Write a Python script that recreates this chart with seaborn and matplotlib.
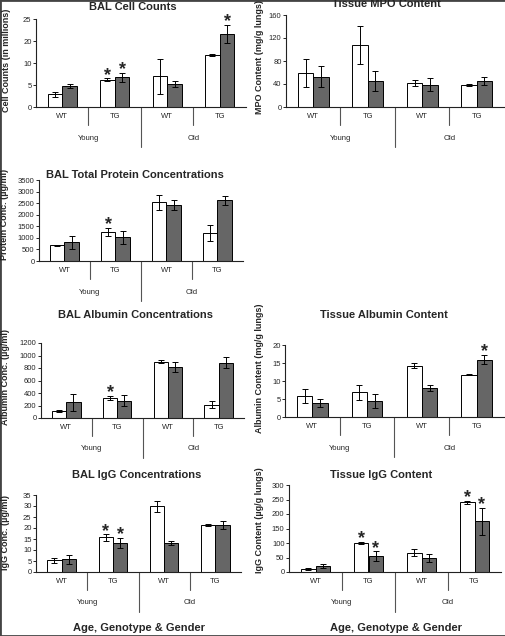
import matplotlib
matplotlib.use("Agg")
import matplotlib.pyplot as plt
import matplotlib.transforms as mtransforms
from matplotlib.patches import Rectangle
import pandas as pd
import seaborn as sns

# ---- data ----
groups = ["Young WT", "Young TG", "Old WT", "Old TG"]
genotypes = ["WT", "TG", "WT", "TG"]
ages = ["Young", "Old"]
sexes = ["Male", "Female"]  # white / grey bars

# BAL cell counts
cell_m = [3.6, 7.8, 8.7, 14.8]
cell_m_err = [0.7, 0.3, 5.0, 0.2]
cell_f = [5.9, 8.4, 6.5, 20.8]
cell_f_err = [0.6, 1.3, 0.9, 2.5]
cell_ticks = [0, 6.25, 12.5, 18.75, 25]
cell_ticklabels = ["0", "5", "10", "20", "25"]
cell_stars = [(1, 0), (1, 1), (3, 1)]  # (group, sex)

# Tissue MPO content
mpo_m = [59, 107, 42, 38]
mpo_m_err = [24, 33, 5, 2]
mpo_f = [53, 45, 39, 46]
mpo_f_err = [19, 18, 12, 7]
mpo_ticks = [0, 40, 80, 120, 160]
mpo_stars = []

# BAL total protein
prot_m = [680, 1270, 2530, 1215]
prot_m_err = [30, 170, 330, 330]
prot_f = [800, 1030, 2430, 2630]
prot_f_err = [300, 280, 220, 200]
prot_ticks = [0, 500, 1000, 1500, 2000, 2500, 3000, 3500]
prot_stars = [(1, 0)]

# BAL albumin
balb_m = [115, 325, 900, 215]
balb_m_err = [20, 30, 25, 60]
balb_f = [250, 280, 815, 885]
balb_f_err = [140, 95, 85, 85]
balb_ticks = [0, 200, 400, 600, 800, 1000, 1200]
balb_stars = [(1, 0)]

# Tissue albumin
talb_m = [5.8, 6.9, 14.3, 11.8]
talb_m_err = [2.0, 2.1, 0.6, 0.2]
talb_f = [3.9, 4.5, 8.0, 15.9]
talb_f_err = [1.1, 2.0, 0.8, 1.3]
talb_ticks = [0, 5, 10, 15, 20]
talb_stars = [(3, 1)]

# BAL IgG
bigg_m = [5.3, 15.7, 29.8, 21.3]
bigg_m_err = [1.2, 1.4, 2.6, 0.4]
bigg_f = [5.8, 13.2, 13.2, 21.3]
bigg_f_err = [2.0, 2.4, 0.7, 1.7]
bigg_ticks = [0, 5, 10, 15, 20, 25, 30, 35]
bigg_stars = [(1, 0), (1, 1)]

# Tissue IgG
tigg_m = [10, 100, 66, 240]
tigg_m_err = [3, 3, 12, 6]
tigg_f = [20, 54, 48, 175]
tigg_f_err = [7, 17, 15, 46]
tigg_ticks = [0, 50, 100, 150, 200, 250, 300]
tigg_stars = [(1, 0), (1, 1), (3, 0), (3, 1)]

sns.set_style("white")
plt.rcParams["font.family"] = ["Liberation Sans", "DejaVu Sans"]

W, H = 506, 636
fig = plt.figure(figsize=(W / 100, H / 100), dpi=100)


def panel(box, male, male_err, female, female_err, ticks, stars, ticklabels=None):
    left, right, top, bottom = box
    h = bottom - top
    ax = fig.add_axes([left / W, 1 - bottom / H, (right - left) / W, h / H])
    df = pd.DataFrame({
        "group": groups * 2,
        "sex": [sexes[0]] * 4 + [sexes[1]] * 4,
        "value": male + female,
    })
    sns.barplot(data=df, x="group", y="value", hue="sex", order=groups,
                hue_order=sexes, palette=["white", "#666666"],
                edgecolor="black", linewidth=0.7, width=0.56,
                errorbar=None, legend=False, ax=ax)
    errs = male_err + female_err
    tops = []
    for p, v, e in zip(ax.patches, df["value"], errs):
        xc = p.get_x() + p.get_width() / 2
        ax.errorbar(xc, v, yerr=e, color="black", lw=0.7, capsize=2,
                    capthick=0.7)
        tops.append((xc, v + e))
    # significance marks
    for g, s in stars:
        xc, yt = tops[s * 4 + g]
        ax.annotate("*", (xc, yt), xytext=(0, -1), textcoords="offset points",
                    ha="center", va="baseline", fontsize=13,
                    fontweight="bold")

    ax.set_xlim(-0.5, 3.5)
    ax.set_ylim(0, ticks[-1])
    ax.set_yticks(ticks, ticklabels if ticklabels else [str(t) for t in ticks])
    ax.set_xticks(range(4), genotypes)
    ax.set_xlabel("")
    ax.set_ylabel("")
    ax.tick_params(axis="x", length=0, pad=4.5, labelsize=5.5)
    ax.tick_params(axis="y", left=True, length=2, width=0.7, pad=1.2,
                   labelsize=5.5)
    sns.despine(ax=ax)
    for sp in ("left", "bottom"):
        ax.spines[sp].set_color("#222222")
        ax.spines[sp].set_linewidth(0.8)

    # multi-level category axis
    trans = mtransforms.blended_transform_factory(ax.transData, ax.transAxes)
    for x, depth in [(0.5, 18), (1.5, 40), (2.5, 18)]:
        ax.plot([x, x], [0, -depth / h], transform=trans, clip_on=False,
                color="#555555", lw=0.8)
    for x, age in zip([0.5, 2.5], ages):
        ax.text(x, -31 / h, age, transform=trans, ha="center", va="center",
                fontsize=5.5)
    return ax


def ftext(x, y, s, **kw):
    fig.text(x / W, 1 - y / H, s, ha="center", va="center", **kw)


panel((36, 246, 19, 107), cell_m, cell_m_err, cell_f, cell_f_err,
      cell_ticks, cell_stars, cell_ticklabels)
panel((286, 504, 15, 107), mpo_m, mpo_m_err, mpo_f, mpo_f_err,
      mpo_ticks, mpo_stars)
panel((39, 243, 180, 261), prot_m, prot_m_err, prot_f, prot_f_err,
      prot_ticks, prot_stars)
panel((41, 244, 343, 418), balb_m, balb_m_err, balb_f, balb_f_err,
      balb_ticks, balb_stars)
panel((285, 504, 345, 417), talb_m, talb_m_err, talb_f, talb_f_err,
      talb_ticks, talb_stars)
panel((36, 241, 495, 572), bigg_m, bigg_m_err, bigg_f, bigg_f_err,
      bigg_ticks, bigg_stars)
panel((289, 501, 485, 572), tigg_m, tigg_m_err, tigg_f, tigg_f_err,
      tigg_ticks, tigg_stars)

# titles
tkw = dict(fontsize=8, fontweight="bold")
ftext(133, 7, "BAL Cell Counts", **tkw)
ftext(386, 4, "Tissue MPO Content", **tkw)
ftext(135, 175, "BAL Total Protein Concentrations", **tkw)
ftext(136, 315, "BAL Albumin Concentrations", **tkw)
ftext(384, 315, "Tissue Albumin Content", **tkw)
ftext(137, 475, "BAL IgG Concentrations", **tkw)
ftext(381, 475, "Tissue IgG Content", **tkw)

# y labels
ykw = dict(fontsize=6.5, fontweight="bold", rotation=90)
ftext(7, 60, "Cell Counts (in millions)", **ykw)
ftext(259, 57, "MPO Content (mg/g lungs)", **ykw)
ftext(5, 214, "Protein Conc. (µg/ml)", **ykw)
ftext(6, 377, "Albumin Conc. (µg/ml)", **ykw)
ftext(259, 368, "Albumin Content (mg/g lungs)", **ykw)
ftext(6, 532, "IgG Conc. (µg/ml)", **ykw)
ftext(260, 520, "IgG Content (µg/g lungs)", **ykw)

# x labels
ftext(139, 628, "Age, Genotype & Gender", **tkw)
ftext(396, 628, "Age, Genotype & Gender", **tkw)

fig.patches.append(Rectangle((0, 0), 1, 1, transform=fig.transFigure,
                             fill=False, edgecolor="#444444", lw=2))

fig.savefig("out.png", dpi=100)
